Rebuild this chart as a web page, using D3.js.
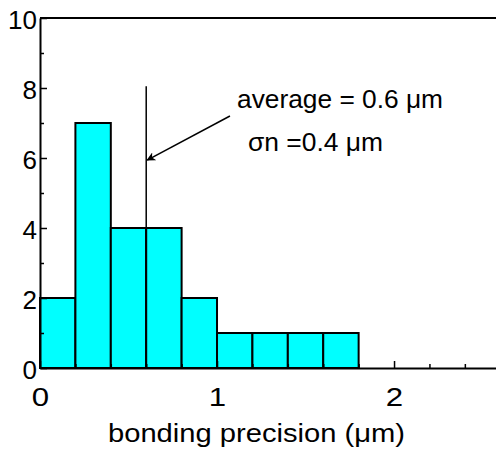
<!DOCTYPE html>
<html>
<head>
<meta charset="utf-8">
<script src="https://cdn.jsdelivr.net/npm/d3@7"></script>
<style>
  body { margin: 0; background: #fff; }
  text { font-family: "Liberation Sans", Arial, sans-serif; fill: #000; }
</style>
</head>
<body>
<script>
// histogram data: bin starts (um) and counts
const binStarts = [0, 0.2, 0.4, 0.6, 0.8, 1.0, 1.2, 1.4, 1.6];
const binWidth = 0.2;
const counts = [2, 7, 4, 4, 2, 1, 1, 1, 1];

const yMajorTicks = [0, 2, 4, 6, 8, 10];
const yMinorTicks = [1, 3, 5, 7, 9];
const xMajorTicks = [0, 1, 2];
const xMinorTicks = [0.2, 0.4, 0.6, 0.8, 1.2, 1.4, 1.6, 1.8, 2.2, 2.4];

const average = 0.6;
const avgLineTop = 8.05;
const arrowFrom = [1.073, 7.2];
const labelLines = ["average = 0.6 \u03bcm", "\u03c3n =0.4 \u03bcm"];
const xTitle = "bonding precision (\u03bcm)";

const margin = { top: 18, bottom: 83, left: 40, right: 0 };
const width = 496 - margin.left - margin.right;
const height = 451 - margin.top - margin.bottom;

const svg = d3.select("body").append("svg")
  .attr("width", 496)
  .attr("height", 451);

const defs = svg.append("defs");
defs.append("marker")
  .attr("id", "arrow")
  .attr("viewBox", "0 0 10 10")
  .attr("refX", 9)
  .attr("refY", 5)
  .attr("markerWidth", 9)
  .attr("markerHeight", 9)
  .attr("markerUnits", "userSpaceOnUse")
  .attr("orient", "auto")
  .append("path")
  .attr("d", "M0,0 L10,5 L0,10 L3,5 Z")
  .attr("fill", "#000");

const g = svg.append("g")
  .attr("transform", `translate(${margin.left},${margin.top})`);

const x = d3.scaleLinear().domain([0, 2.576]).range([0, width]);
const y = d3.scaleLinear().domain([0, 10]).range([height, 0]);

// bars
g.selectAll("rect.bar")
  .data(binStarts.map((s, i) => ({ s, c: counts[i] })))
  .join("rect")
  .attr("class", "bar")
  .attr("x", d => x(d.s))
  .attr("y", d => y(d.c))
  .attr("width", x(binWidth) - x(0))
  .attr("height", d => y(0) - y(d.c))
  .attr("fill", "#00ffff")
  .attr("stroke", "#000")
  .attr("stroke-width", 2);

// average line
g.append("line")
  .attr("x1", x(average)).attr("x2", x(average))
  .attr("y1", y(avgLineTop)).attr("y2", y(0))
  .attr("stroke", "#000")
  .attr("stroke-width", 1.5);

// arrow to average line
g.append("line")
  .attr("x1", x(arrowFrom[0])).attr("y1", y(arrowFrom[1]))
  .attr("x2", x(average) + 1).attr("y2", y(5.94))
  .attr("stroke", "#000")
  .attr("stroke-width", 1.5)
  .attr("marker-end", "url(#arrow)");

// annotation text
svg.append("text")
  .attr("x", 237).attr("y", 108)
  .attr("font-size", 25)
  .attr("textLength", 206)
  .attr("lengthAdjust", "spacingAndGlyphs")
  .text(labelLines[0]);
svg.append("text")
  .attr("x", 248).attr("y", 151)
  .attr("font-size", 25)
  .attr("textLength", 135)
  .attr("lengthAdjust", "spacingAndGlyphs")
  .text(labelLines[1]);

// y axis
const yAxis = d3.axisLeft(y).tickValues(yMajorTicks).tickSize(-7).tickSizeOuter(0).tickPadding(3);
const gy = g.append("g").call(yAxis);
gy.selectAll("text")
  .attr("font-size", 26)
  .attr("font-family", "Liberation Sans, Arial, sans-serif")
  .attr("dy", "0.42em");
g.append("g").call(d3.axisLeft(y).tickValues(yMinorTicks).tickSize(-4).tickFormat(""))
  .select(".domain").remove();

// x axis
const xAxis = d3.axisBottom(x).tickValues(xMajorTicks).tickFormat(d3.format("d"))
  .tickSize(-7).tickSizeOuter(0).tickPadding(20);
const gx = g.append("g").attr("transform", `translate(0,${height})`).call(xAxis);
gx.selectAll("text")
  .attr("font-size", 26)
  .attr("font-family", "Liberation Sans, Arial, sans-serif")
  .attr("transform", "scale(1.2,1)");
g.append("g").attr("transform", `translate(0,${height})`)
  .call(d3.axisBottom(x).tickValues(xMinorTicks).tickSize(-4).tickFormat(""))
  .select(".domain").remove();

g.selectAll(".domain").attr("stroke-width", 2);
g.selectAll(".tick line").attr("stroke-width", 1.5);

// top frame line
g.append("line")
  .attr("x1", 0).attr("x2", width)
  .attr("y1", y(10)).attr("y2", y(10))
  .attr("stroke", "#000")
  .attr("stroke-width", 2);

// x title
svg.append("text")
  .attr("x", 108).attr("y", 442)
  .attr("font-size", 26)
  .attr("textLength", 297)
  .attr("lengthAdjust", "spacingAndGlyphs")
  .text(xTitle);
</script>
</body>
</html>
